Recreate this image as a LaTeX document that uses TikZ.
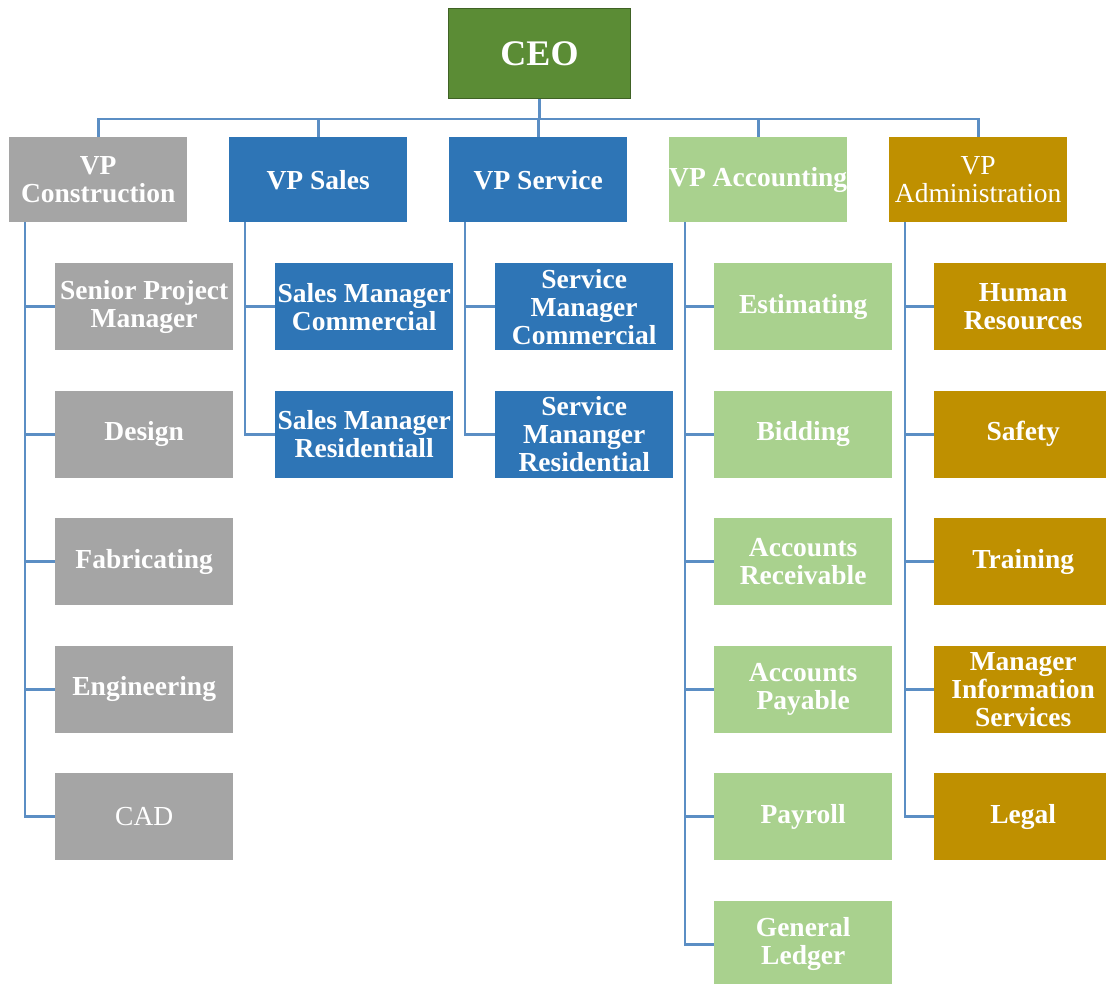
\documentclass[tikz,border=0pt]{standalone}
\usepackage{fontspec}
\setmainfont{Liberation Serif}
\usetikzlibrary{positioning}

\definecolor{ceogreen}{HTML}{5B8C35}
\definecolor{constgray}{HTML}{A5A5A5}
\definecolor{salesblue}{HTML}{2E75B6}
\definecolor{acctgreen}{HTML}{A9D18E}
\definecolor{admingold}{HTML}{BF9000}
\definecolor{linkblue}{HTML}{5B8EC4}

\tikzset{
  unit/.style={anchor=north west, inner sep=0pt, minimum width=178pt,
    minimum height=87pt, text=white, align=center,
    font=\fontsize{27.5}{28}\selectfont\bfseries},
  vpbox/.style={unit, minimum height=85pt},
  link/.style={draw=linkblue, line width=2.6pt},
}

\begin{document}
\begin{tikzpicture}[x=1pt, y=-1pt]
  \useasboundingbox (0,0) rectangle (1106,983);
  \clip (0,0) rectangle (1106,983);

  % top
  \node[unit, minimum width=182pt, minimum height=90pt, fill=ceogreen,
        draw=ceogreen!70!black, line width=1pt,
        font=\fontsize{36}{38}\selectfont\bfseries] (ceo) at (448,8) {CEO};

  % vice presidents
  \node[vpbox, fill=constgray] (vpcon) at (9,137) {VP\\Construction};
  \node[vpbox, fill=salesblue] (vpsal) at (229,137) {VP Sales};
  \node[vpbox, fill=salesblue] (vpser) at (449,137) {VP Service};
  \node[vpbox, fill=acctgreen] (vpacc) at (669,137) {VP Accounting};
  \node[vpbox, fill=admingold, font=\fontsize{27.5}{28}\selectfont] (vpadm) at (889,137) {VP\\Administration};

  \draw[link] (ceo.south) -- ++(0,20) coordinate (bus);
  \foreach \v in {vpcon, vpsal, vpser, vpacc, vpadm}
    \draw[link] (bus) -| (\v.north);

  % construction
  \foreach \n/\t [count=\i from 0] in {spm/Senior Project\\Manager, des/Design,
      fab/Fabricating, eng/Engineering, cad/{\mdseries CAD}}
    \node[unit, fill=constgray] (\n) at (55,263+127.5*\i) {\t};
  \foreach \n in {spm, des, fab, eng, cad}
    \draw[link] ([xshift=16pt]vpcon.south west) |- (\n.west);

  % sales
  \node[unit, fill=salesblue] (smc) at (275,263) {Sales Manager\\Commercial};
  \node[unit, fill=salesblue] (smr) at (275,390.5) {Sales Manager\\Residentiall};
  \foreach \n in {smc, smr}
    \draw[link] ([xshift=16pt]vpsal.south west) |- (\n.west);

  % service
  \node[unit, fill=salesblue] (svc) at (495,263) {Service\\Manager\\Commercial};
  \node[unit, fill=salesblue] (svr) at (495,390.5) {Service\\Mananger\\Residential};
  \foreach \n in {svc, svr}
    \draw[link] ([xshift=16pt]vpser.south west) |- (\n.west);

  % accounting
  \foreach \n/\t [count=\i from 0] in {est/Estimating, bid/Bidding,
      ar/Accounts\\Receivable, ap/Accounts\\Payable, pay/Payroll, gl/General\\Ledger}
    \node[unit, fill=acctgreen] (\n) at (714,263+127.5*\i) {\t};
  \foreach \n in {est, bid, ar, ap, pay, gl}
    \draw[link] ([xshift=16pt]vpacc.south west) |- (\n.west);

  % administration
  \foreach \n/\t [count=\i from 0] in {hr/Human\\Resources, saf/Safety,
      tra/Training, mis/Manager\\Information\\Services, leg/Legal}
    \node[unit, fill=admingold] (\n) at (934,263+127.5*\i) {\t};
  \foreach \n in {hr, saf, tra, mis, leg}
    \draw[link] ([xshift=16pt]vpadm.south west) |- (\n.west);
\end{tikzpicture}
\end{document}
